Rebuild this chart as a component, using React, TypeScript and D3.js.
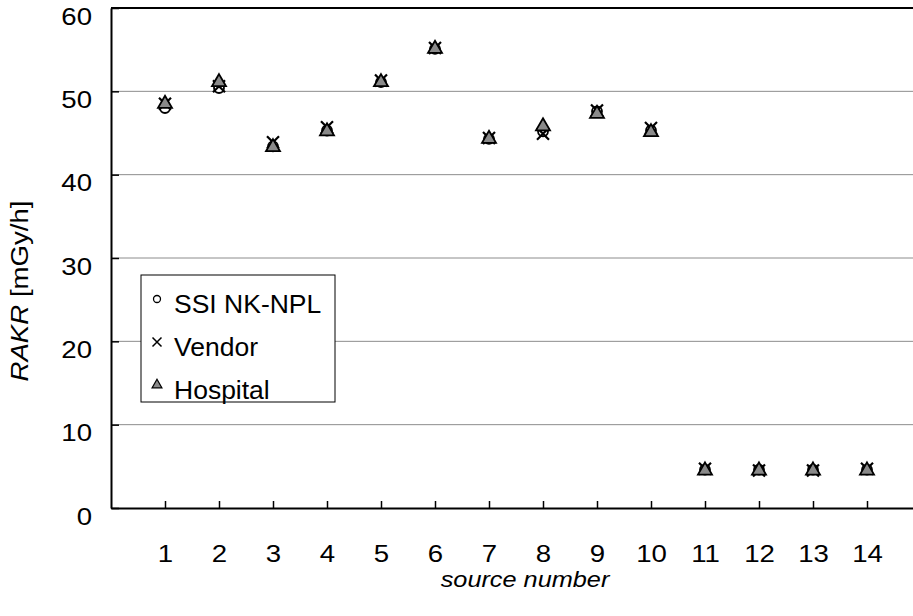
import React, { useEffect, useRef } from 'react';
import * as d3 from 'd3';

// source numbers on the x axis
const sources = [1, 2, 3, 4, 5, 6, 7, 8, 9, 10, 11, 12, 13, 14];
// RAKR [mGy/h] per source
const ssiValues = [48.0, 50.4, 43.4, 45.3, 51.1, 55.1, 44.3, 45.2, 47.6, 45.3, 4.6, 4.6, 4.6, 4.6];
const vendorValues = [48.5, 50.6, 43.9, 45.7, 51.3, 55.2, 44.4, 44.9, 47.7, 45.6, 4.7, 4.5, 4.5, 4.7];
const hospitalValues = [48.5, 51.1, 43.3, 45.2, 51.1, 55.1, 44.3, 45.8, 47.3, 45.1, 4.5, 4.5, 4.5, 4.5];
const yTicks = [0, 10, 20, 30, 40, 50, 60];
const legendLabels = ['SSI NK-NPL', 'Vendor', 'Hospital'];

const W = 913;
const H = 616;
const margin = { top: 8, left: 111, bottom: 108 };
const plotRight = 921; // plot runs off the right edge of the picture
const font = "'Liberation Sans', Arial, sans-serif";
const stretch = 'scale(1.15,1)'; // the original's text is a bit wide

const App = () => {
    const ref = useRef<SVGSVGElement>(null);

    useEffect(() => {
        const svg = d3.select(ref.current);
        svg.selectAll('*').remove();

        const x = d3.scaleLinear().domain([0, 15]).range([margin.left, plotRight]);
        const y = d3.scaleLinear().domain([0, 60]).range([H - margin.bottom, margin.top]);

        // gridlines
        svg.append('g')
            .selectAll('line')
            .data(yTicks.filter(t => t > 0 && t < 60))
            .enter()
            .append('line')
            .attr('x1', margin.left)
            .attr('x2', plotRight)
            .attr('y1', d => y(d))
            .attr('y2', d => y(d))
            .attr('stroke', '#8c8c8c')
            .attr('stroke-width', 1);

        // top border
        svg.append('line')
            .attr('x1', margin.left).attr('x2', plotRight)
            .attr('y1', y(60)).attr('y2', y(60))
            .attr('stroke', '#000').attr('stroke-width', 2);

        // y axis
        const yAxis = svg.append('g')
            .attr('transform', `translate(${margin.left},0)`)
            .call(d3.axisLeft(y).tickValues(yTicks).tickSizeInner(-8).tickSizeOuter(0));
        yAxis.select('.domain').attr('stroke', '#000').attr('stroke-width', 2);
        yAxis.selectAll('.tick line').attr('stroke', '#000').attr('stroke-width', 1.5);
        yAxis.selectAll('text')
            .attr('font-family', font).attr('font-size', 24).attr('fill', '#000')
            .attr('x', 0).attr('dy', 0)
            .attr('transform', `translate(-19,16) ${stretch}`);

        // x axis
        const xAxis = svg.append('g')
            .attr('transform', `translate(0,${y(0)})`)
            .call(d3.axisBottom(x).tickValues(sources).tickFormat(d3.format('d')).tickSizeInner(-7).tickSizeOuter(0));
        xAxis.select('.domain').attr('stroke', '#000').attr('stroke-width', 2);
        xAxis.selectAll('.tick line').attr('stroke', '#000').attr('stroke-width', 1.5);
        xAxis.selectAll('text')
            .attr('font-family', font).attr('font-size', 24).attr('fill', '#000')
            .attr('y', 0).attr('dy', 0)
            .attr('transform', `translate(0,54) ${stretch}`);

        const rows = sources.map((s, i) => ({ s, ssi: ssiValues[i], vendor: vendorValues[i], hospital: hospitalValues[i] }));

        const cross = (cx: number, cy: number, h: number) =>
            `M${cx - h},${cy - h}L${cx + h},${cy + h}M${cx - h},${cy + h}L${cx + h},${cy - h}`;
        const tri = d3.symbol().type(d3.symbolTriangle).size(85);
        const triSmall = d3.symbol().type(d3.symbolTriangle).size(42);

        // SSI NK-NPL: open circles
        svg.append('g')
            .selectAll('circle')
            .data(rows)
            .enter()
            .append('circle')
            .attr('cx', d => x(d.s))
            .attr('cy', d => y(d.ssi))
            .attr('r', 5)
            .attr('fill', '#fff')
            .attr('stroke', '#000')
            .attr('stroke-width', 1.8);

        // Vendor: crosses
        svg.append('g')
            .selectAll('path')
            .data(rows)
            .enter()
            .append('path')
            .attr('d', d => cross(x(d.s), y(d.vendor), 6))
            .attr('stroke', '#000')
            .attr('stroke-width', 2.2)
            .attr('fill', 'none');

        // Hospital: gray triangles
        svg.append('g')
            .selectAll('path')
            .data(rows)
            .enter()
            .append('path')
            .attr('d', tri)
            .attr('transform', d => `translate(${x(d.s)},${y(d.hospital)})`)
            .attr('fill', '#8a8a8a')
            .attr('stroke', '#000')
            .attr('stroke-width', 1.8);

        // legend
        const lg = svg.append('g').attr('transform', 'translate(141,275)');
        lg.append('rect')
            .attr('width', 194).attr('height', 127)
            .attr('fill', '#fff').attr('stroke', '#000').attr('stroke-width', 1);
        const rowY = [24, 67, 110];
        lg.append('circle').attr('cx', 16).attr('cy', rowY[0]).attr('r', 3.5)
            .attr('fill', '#fff').attr('stroke', '#000').attr('stroke-width', 1.3);
        lg.append('path').attr('d', cross(16, rowY[1], 4.5))
            .attr('stroke', '#000').attr('stroke-width', 1.5);
        lg.append('path').attr('d', triSmall)
            .attr('transform', `translate(16,${rowY[2]})`)
            .attr('fill', '#8a8a8a').attr('stroke', '#000').attr('stroke-width', 1.2);
        lg.selectAll('text.lbl')
            .data(legendLabels)
            .enter()
            .append('text')
            .attr('class', 'lbl')
            .attr('x', 33)
            .attr('y', (d, i) => rowY[i] + 14)
            .attr('font-family', font)
            .attr('font-size', 26.5)
            .text(d => d);

        // axis titles
        svg.append('text')
            .attr('transform', `translate(525,587) ${stretch}`)
            .attr('text-anchor', 'middle')
            .attr('font-family', font).attr('font-size', 22).attr('font-style', 'italic')
            .text('source number');

        const yt = svg.append('text')
            .attr('transform', `translate(28,291) rotate(-90) ${stretch}`)
            .attr('text-anchor', 'middle')
            .attr('font-family', font).attr('font-size', 24);
        yt.append('tspan').attr('font-style', 'italic').text('RAKR');
        yt.append('tspan').text(' [mGy/h]');
    }, []);

    return (
        <svg ref={ref} width={W} height={H}
            style={{ position: 'absolute', left: 0, top: 0, background: '#fff' }} />
    );
};

export default App;
